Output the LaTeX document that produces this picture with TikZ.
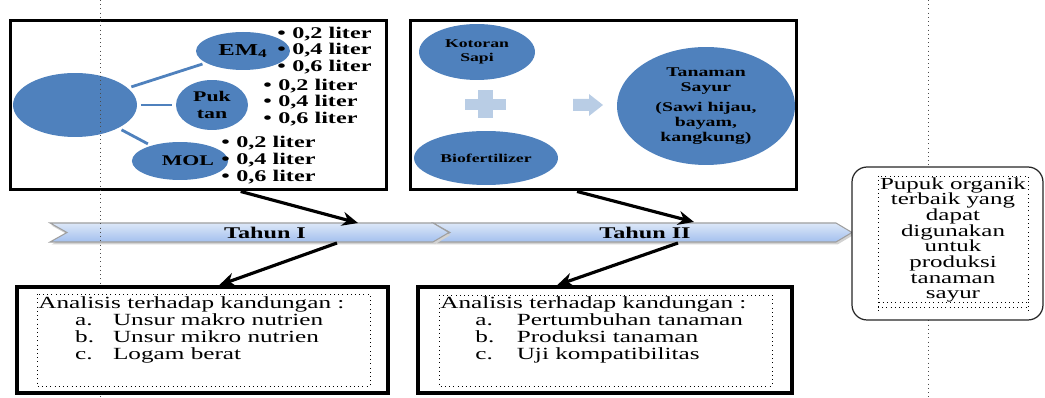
\documentclass[tikz,border=0pt]{standalone}
\usepackage{fontspec}
\setmainfont{Liberation Serif}[FakeStretch=1.48]
\usetikzlibrary{shapes.geometric,arrows.meta}
\definecolor{officeblue}{HTML}{4F81BD}
\definecolor{paleblue}{HTML}{B9CDE5}
\definecolor{bannertop}{HTML}{DCE7F8}
\definecolor{bannerbot}{HTML}{A3C0EE}
\newcommand{\dosetext}[1]{\makebox[8.5pt][l]{\textbullet}0,#1 liter}

\begin{document}
\begin{tikzpicture}[x=0.02cm, y=-0.02cm,
    bubble/.style={ellipse, fill=officeblue, inner sep=0pt, text=black, align=center},
    link/.style={officeblue, line width=1.6pt, shorten <=2pt, shorten >=2pt},
    dose/.style={anchor=west, inner sep=0pt, font=\fontsize{9.3}{9.5}\selectfont\bfseries},
    topbox/.style={draw, line width=1.7pt, inner sep=0pt, minimum height=3.4cm},
    lowbox/.style={draw, fill=white, line width=2.2pt, inner sep=0pt, minimum height=2.12cm},
    inner/.style={draw, dotted, thin},
    guide/.style={dotted, gray!60!black, thin},
    chevron/.style={draw=gray!75, line width=0.6pt, top color=bannertop, bottom color=bannerbot},
    arr/.style={-{Stealth[length=9pt,width=8pt]}, line width=1.8pt},
    listtext/.style={anchor=north west, align=left, inner sep=0pt, font=\fontsize{9.7}{9.8}\selectfont},
    ]
    \useasboundingbox (0,0) rectangle (1045,398);

    % tahun I: three fertilizers
    \node[topbox, minimum width=7.54cm] (box1) at (198.5,105) {};
    \node[bubble, minimum width=2.48cm, minimum height=1.28cm] (root) at (75,105) {};
    \node[bubble, minimum width=1.88cm, minimum height=0.76cm, font=\fontsize{9.5}{9}\selectfont\bfseries] (em4) at (243,51) {EM\textsubscript{4}};
    \node[bubble, minimum width=1.44cm, minimum height=1cm, font=\fontsize{8.4}{10}\selectfont\bfseries] (puktan) at (212,105) {Puk\\tan};
    \node[bubble, minimum width=1.64cm, minimum height=0.76cm, font=\fontsize{8.4}{9}\selectfont\bfseries] (mol) at (180,161) {\hspace*{9pt}MOL};
    \draw[link] (root) -- (em4);
    \draw[link] (root) -- (puktan);
    \draw[link] (root) -- (mol);
    \foreach \v [count=\i from 0] in {2,4,6} {
        \node[dose] (emdose\v) at (277,34+16.5*\i) {\dosetext{\v}};
        \node[dose] (pukdose\v) at (263,86+16.5*\i) {\dosetext{\v}};
        \node[dose] (moldose\v) at (221,143+17*\i) {\dosetext{\v}};
    }

    % tahun II: application on vegetables
    \node[topbox, minimum width=7.74cm] (box2) at (603.5,105) {};
    \node[bubble, minimum width=2.32cm, minimum height=1.12cm, font=\fontsize{6.8}{8}\selectfont\bfseries] (kotoran) at (477,52) {Kotoran\\Sapi};
    \node[bubble, minimum width=2.88cm, minimum height=1.08cm, font=\fontsize{6.8}{8}\selectfont\bfseries] (bio) at (486,158) {Biofertilizer};
    \node[bubble, minimum width=3.56cm, minimum height=2.36cm, font=\fontsize{7.6}{8.5}\selectfont\bfseries] (tanaman) at (706,106) {Tanaman\\Sayur\\[3pt](Sawi hijau,\\bayam,\\kangkung)};
    \fill[paleblue] (465,99) rectangle (506,110);
    \fill[paleblue] (478,90) rectangle (493,118);
    \fill[paleblue] (573,99) -- (589,99) -- (589,94) -- (603,105) -- (589,116) -- (589,111) -- (573,111) -- cycle;

    % banner
    \fill[gray!35, shift={(1.5,2.5)}] (433,223) -- (836,223) -- (852,232.5) -- (836,242) -- (433,242) -- (450,232.5) -- cycle;
    \draw[chevron] (433,223) -- (836,223) -- (852,232.5) -- (836,242) -- (433,242) -- (450,232.5) -- cycle;
    \fill[gray!35, shift={(1.5,2.5)}] (50,223) -- (433,223) -- (449,232.5) -- (433,242) -- (50,242) -- (67,232.5) -- cycle;
    \draw[chevron] (50,223) -- (433,223) -- (449,232.5) -- (433,242) -- (50,242) -- (67,232.5) -- cycle;
    \node[font=\fontsize{9.3}{9}\selectfont\bfseries] (tahun1) at (265,232.5) {Tahun I};
    \node[font=\fontsize{9.3}{9}\selectfont\bfseries] (tahun2) at (645,232.5) {Tahun II};

    \draw[guide] (100,0) -- (100,398);
    \draw[guide] (928,0) -- (928,398);

    % analysis boxes
    \node[lowbox, minimum width=7.42cm] (box3) at (202.5,340) {};
    \node[lowbox, minimum width=7.48cm] (box4) at (605,340) {};
    \draw[inner] (37,294) rectangle (370,386);
    \draw[inner] (439,295) rectangle (772,386);
    \node[listtext] (list3) at (38,296) {Analisis terhadap kandungan :\\
        \hspace*{21pt}\makebox[21.5pt][l]{a.}Unsur makro nutrien\\
        \hspace*{21pt}\makebox[21.5pt][l]{b.}Unsur mikro nutrien\\
        \hspace*{21pt}\makebox[21.5pt][l]{c.}Logam berat};
    \node[listtext] (list4) at (440,296) {Analisis terhadap kandungan :\\
        \hspace*{20pt}\makebox[23.5pt][l]{a.}Pertumbuhan tanaman\\
        \hspace*{20pt}\makebox[23.5pt][l]{b.}Produksi tanaman\\
        \hspace*{20pt}\makebox[23.5pt][l]{c.}Uji kompatibilitas};

    % arrows
    \coordinate (in1) at (358,223);
    \coordinate (in2) at (694,222);
    \coordinate (out1) at (337,243);
    \coordinate (out2) at (678,243);
    \draw[arr] (box1.-64) -- (in1);
    \draw[arr] (box2.-107.3) -- (in2);
    \draw[arr] (out1) -- (box3.73.7);
    \draw[arr] (out2) -- (box4.131.6);

    % result
    \node[draw=gray!30!black, fill=white, rounded corners=0.3cm, line width=0.7pt, minimum width=3.82cm, minimum height=3.06cm] (result) at (947.5,243.5) {};
    \draw[inner] (878,176) rectangle (1028,302);
    \draw[inner] (878,302) -- (878,314) (1028,302) -- (1028,314) (878,307) -- (1028,307);
    \node[align=center, inner sep=0pt, font=\fontsize{9.6}{8.9}\selectfont] (resulttext) at (953,240) {Pupuk organik\\terbaik yang\\dapat\\digunakan\\untuk\\produksi\\tanaman\\sayur};
\end{tikzpicture}
\end{document}
